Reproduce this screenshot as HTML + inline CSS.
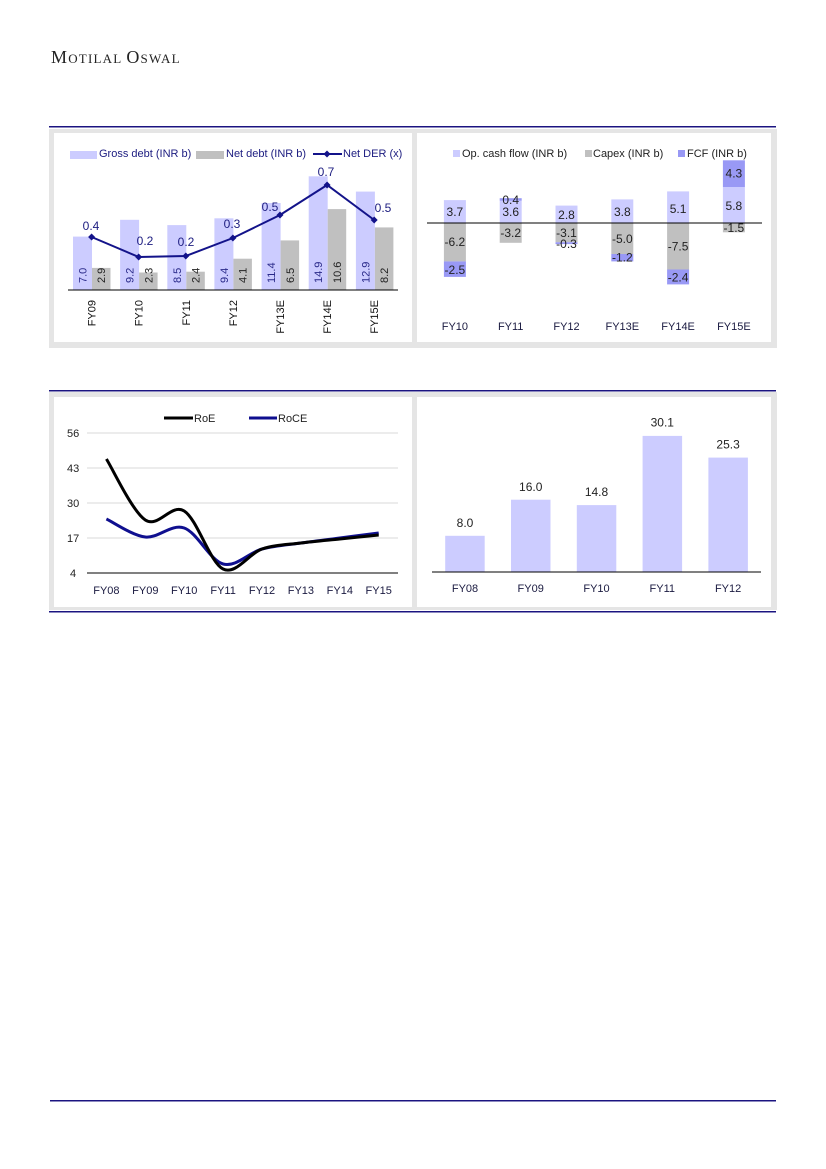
<!DOCTYPE html>
<html><head><meta charset="utf-8"><style>
html,body{margin:0;padding:0;background:#fff;}
svg{display:block;}
text{font-family:"Liberation Sans",Arial,sans-serif;}
</style></head><body>
<svg width="826" height="1169" viewBox="0 0 826 1169" xmlns="http://www.w3.org/2000/svg">
<rect width="826" height="1169" fill="#fff"/>
<!-- header -->
<text x="51" y="63" style="font-family:'Liberation Serif','DejaVu Serif',serif" fill="#222" letter-spacing="1.2"><tspan font-size="18">M</tspan><tspan font-size="13">OTILAL</tspan><tspan font-size="13"> </tspan><tspan font-size="18">O</tspan><tspan font-size="13">SWAL</tspan></text>

<!-- top section -->
<rect x="49" y="126" width="727" height="1.5" fill="#1b1480"/>
<rect x="49" y="129" width="728" height="219" fill="#e5e5e5"/>
<rect x="54" y="133" width="358" height="209" fill="#fff"/>
<rect x="417" y="133" width="354" height="209" fill="#fff"/>

<!-- chart 1 legend -->
<rect x="70" y="151" width="27" height="8" fill="#ccccff"/>
<text x="99" y="157" font-size="11" fill="#1c1c80">Gross debt (INR b)</text>
<rect x="196" y="151" width="28" height="8" fill="#c0c0c0"/>
<text x="226" y="157" font-size="11" fill="#1c1c80">Net debt (INR b)</text>
<line x1="313" y1="154" x2="342" y2="154" stroke="#13138a" stroke-width="2"/>
<path d="M327 150.5 L330.5 154 L327 157.5 L323.5 154 Z" fill="#13138a"/>
<text x="343" y="157" font-size="11" fill="#1c1c80">Net DER (x)</text>

<!-- chart 1 bars -->
<g fill="#ccccff">
<rect x="73" y="236.6" width="19" height="53.4"/>
<rect x="120.1" y="219.8" width="19" height="70.2"/>
<rect x="167.3" y="225.1" width="19" height="64.9"/>
<rect x="214.4" y="218.3" width="19" height="71.7"/>
<rect x="261.6" y="203" width="19" height="87"/>
<rect x="308.7" y="176.3" width="19" height="113.7"/>
<rect x="355.9" y="191.6" width="19" height="98.4"/>
</g>
<g fill="#c0c0c0">
<rect x="92" y="267.9" width="18.5" height="22.1"/>
<rect x="139.1" y="272.5" width="18.5" height="17.5"/>
<rect x="186.3" y="271.7" width="18.5" height="18.3"/>
<rect x="233.4" y="258.7" width="18.5" height="31.3"/>
<rect x="280.6" y="240.4" width="18.5" height="49.6"/>
<rect x="327.7" y="209.1" width="18.5" height="80.9"/>
<rect x="374.9" y="227.4" width="18.5" height="62.6"/>
</g>
<g font-size="11" fill="#2a2a8a">
<text transform="translate(86.5,283) rotate(-90)">7.0</text>
<text transform="translate(133.6,283) rotate(-90)">9.2</text>
<text transform="translate(180.8,283) rotate(-90)">8.5</text>
<text transform="translate(227.9,283) rotate(-90)">9.4</text>
<text transform="translate(275.1,283) rotate(-90)">11.4</text>
<text transform="translate(322.2,283) rotate(-90)">14.9</text>
<text transform="translate(369.4,283) rotate(-90)">12.9</text>
</g>
<g font-size="11" fill="#222">
<text transform="translate(105.2,283) rotate(-90)">2.9</text>
<text transform="translate(152.3,283) rotate(-90)">2.3</text>
<text transform="translate(199.5,283) rotate(-90)">2.4</text>
<text transform="translate(246.6,283) rotate(-90)">4.1</text>
<text transform="translate(293.8,283) rotate(-90)">6.5</text>
<text transform="translate(340.9,283) rotate(-90)">10.6</text>
<text transform="translate(388.1,283) rotate(-90)">8.2</text>
</g>
<line x1="68" y1="290" x2="398" y2="290" stroke="#000" stroke-width="1"/>
<!-- DER line -->
<polyline points="91.6,237 138.7,257 185.8,256 232.9,238 280,215 327.1,185 374.2,220" fill="none" stroke="#13138a" stroke-width="2"/>
<g fill="#13138a">
<path d="M91.6 233.5 L95.1 237 L91.6 240.5 L88.1 237 Z"/>
<path d="M138.7 253.5 L142.2 257 L138.7 260.5 L135.2 257 Z"/>
<path d="M185.8 252.5 L189.3 256 L185.8 259.5 L182.3 256 Z"/>
<path d="M232.9 234.5 L236.4 238 L232.9 241.5 L229.4 238 Z"/>
<path d="M280 211.5 L283.5 215 L280 218.5 L276.5 215 Z"/>
<path d="M327.1 181.5 L330.6 185 L327.1 188.5 L323.6 185 Z"/>
<path d="M374.2 216.5 L377.7 220 L374.2 223.5 L370.7 220 Z"/>
</g>
<g font-size="12" fill="#1c1c80" text-anchor="middle">
<text x="91" y="230">0.4</text>
<text x="145" y="245">0.2</text>
<text x="186" y="246">0.2</text>
<text x="232" y="228">0.3</text>
<text x="270" y="211">0.5</text>
<text x="326" y="176">0.7</text>
<text x="383" y="212">0.5</text>
</g>
<g font-size="11" fill="#111" text-anchor="end">
<text transform="translate(95.6,300) rotate(-90)">FY09</text>
<text transform="translate(142.7,300) rotate(-90)">FY10</text>
<text transform="translate(189.8,300) rotate(-90)">FY11</text>
<text transform="translate(236.9,300) rotate(-90)">FY12</text>
<text transform="translate(284,300) rotate(-90)">FY13E</text>
<text transform="translate(331.1,300) rotate(-90)">FY14E</text>
<text transform="translate(378.2,300) rotate(-90)">FY15E</text>
</g>

<!-- chart 2 -->
<rect x="453" y="150" width="7" height="7" fill="#ccccff"/>
<text x="462" y="157" font-size="11" fill="#222">Op. cash flow (INR b)</text>
<rect x="585" y="150" width="7" height="7" fill="#c0c0c0"/>
<text x="593" y="157" font-size="11" fill="#222">Capex (INR b)</text>
<rect x="678" y="150" width="7" height="7" fill="#9999f5"/>
<text x="687" y="157" font-size="11" fill="#222">FCF (INR b)</text>

<g fill="#ccccff">
<rect x="443.9" y="200.1" width="22" height="22.9"/>
<rect x="499.7" y="200.7" width="22" height="22.3"/>
<rect x="555.5" y="205.6" width="22" height="17.4"/>
<rect x="611.3" y="199.4" width="22" height="23.6"/>
<rect x="667.1" y="191.4" width="22" height="31.6"/>
<rect x="722.9" y="187" width="22" height="36"/>
</g>
<g fill="#c0c0c0">
<rect x="443.9" y="223" width="22" height="38.4"/>
<rect x="499.7" y="223" width="22" height="19.8"/>
<rect x="555.5" y="223" width="22" height="19.2"/>
<rect x="611.3" y="223" width="22" height="31"/>
<rect x="667.1" y="223" width="22" height="46.5"/>
<rect x="722.9" y="223" width="22" height="9.3"/>
</g>
<g fill="#9999f5">
<rect x="443.9" y="261.4" width="22" height="15.5"/>
<rect x="499.7" y="198.2" width="22" height="2.5"/>
<rect x="555.5" y="242.2" width="22" height="1.9"/>
<rect x="611.3" y="254" width="22" height="7.4"/>
<rect x="667.1" y="269.5" width="22" height="14.9"/>
<rect x="722.9" y="160.3" width="22" height="26.7"/>
</g>
<line x1="427" y1="223" x2="762" y2="223" stroke="#000" stroke-width="1"/>
<g font-size="12" fill="#222" text-anchor="middle">
<text x="454.9" y="216">3.7</text>
<text x="454.9" y="246">-6.2</text>
<text x="454.9" y="274">-2.5</text>
<text x="510.7" y="204">0.4</text>
<text x="510.7" y="216">3.6</text>
<text x="510.7" y="237">-3.2</text>
<text x="566.5" y="219">2.8</text>
<text x="566.5" y="237">-3.1</text>
<text x="566.5" y="248">-0.3</text>
<text x="622.3" y="216">3.8</text>
<text x="622.3" y="243">-5.0</text>
<text x="622.3" y="261.5">-1.2</text>
<text x="678.1" y="213">5.1</text>
<text x="678.1" y="250.5">-7.5</text>
<text x="678.1" y="281.5">-2.4</text>
<text x="733.9" y="177.5">4.3</text>
<text x="733.9" y="210">5.8</text>
<text x="733.9" y="232">-1.5</text>
</g>
<g font-size="11" fill="#1a1a40" text-anchor="middle">
<text x="454.9" y="330">FY10</text>
<text x="510.7" y="330">FY11</text>
<text x="566.5" y="330">FY12</text>
<text x="622.3" y="330">FY13E</text>
<text x="678.1" y="330">FY14E</text>
<text x="733.9" y="330">FY15E</text>
</g>

<!-- bottom section -->
<rect x="49" y="390" width="727" height="1.5" fill="#1b1480"/>
<rect x="49" y="392" width="728" height="218" fill="#e5e5e5"/>
<rect x="54" y="397" width="358" height="210" fill="#fff"/>
<rect x="417" y="397" width="354" height="210" fill="#fff"/>
<rect x="49" y="611" width="727" height="1.5" fill="#1b1480"/>

<!-- chart 3 -->
<line x1="164" y1="418" x2="193" y2="418" stroke="#000" stroke-width="3"/>
<text x="194" y="422" font-size="11" fill="#222">RoE</text>
<line x1="249" y1="418" x2="277" y2="418" stroke="#0f0f8f" stroke-width="3"/>
<text x="278" y="422" font-size="11" fill="#222">RoCE</text>
<g stroke="#d9d9d9" stroke-width="1">
<line x1="87" y1="433" x2="398" y2="433"/>
<line x1="87" y1="468" x2="398" y2="468"/>
<line x1="87" y1="503" x2="398" y2="503"/>
<line x1="87" y1="538" x2="398" y2="538"/>
</g>
<line x1="87" y1="573" x2="398" y2="573" stroke="#000" stroke-width="1"/>
<g font-size="11" fill="#222">
<text x="67" y="437">56</text>
<text x="67" y="472">43</text>
<text x="67" y="507">30</text>
<text x="67" y="542">17</text>
<text x="70" y="577">4</text>
</g>
<path d="M106.4 519 C112.9 522 132.3 535.5 145.3 537 C158.3 538.5 171.2 523.5 184.2 528 C197.2 532.5 210.1 560.5 223.1 564 C236.1 567.5 249 552.5 262 549 C275 545.5 287.9 544.8 300.9 543 C313.9 541.2 326.8 539.7 339.8 538 C352.8 536.3 372.2 533.8 378.7 533" fill="none" stroke="#0f0f8f" stroke-width="3"/>
<path d="M106.4 459 C112.9 469.2 132.3 511.3 145.3 520 C158.3 528.7 171.2 502.8 184.2 511 C197.2 519.2 210.1 562.7 223.1 569 C236.1 575.3 249 553.3 262 549 C275 544.7 287.9 544.7 300.9 543 C313.9 541.3 326.8 540.3 339.8 539 C352.8 537.7 372.2 535.7 378.7 535" fill="none" stroke="#000" stroke-width="3"/>
<g font-size="11" fill="#1a1a40" text-anchor="middle">
<text x="106.4" y="594">FY08</text>
<text x="145.3" y="594">FY09</text>
<text x="184.2" y="594">FY10</text>
<text x="223.1" y="594">FY11</text>
<text x="262" y="594">FY12</text>
<text x="300.9" y="594">FY13</text>
<text x="339.8" y="594">FY14</text>
<text x="378.7" y="594">FY15</text>
</g>

<!-- chart 4 -->
<g fill="#ccccff">
<rect x="445.2" y="535.8" width="39.5" height="36.2"/>
<rect x="511" y="499.7" width="39.5" height="72.3"/>
<rect x="576.8" y="505.1" width="39.5" height="66.9"/>
<rect x="642.6" y="435.9" width="39.5" height="136.1"/>
<rect x="708.4" y="457.6" width="39.5" height="114.4"/>
</g>
<line x1="432" y1="572" x2="761" y2="572" stroke="#000" stroke-width="1"/>
<g font-size="12" fill="#222" text-anchor="middle">
<text x="465" y="527">8.0</text>
<text x="530.7" y="491">16.0</text>
<text x="596.5" y="496">14.8</text>
<text x="662.3" y="426.5">30.1</text>
<text x="728.1" y="448.5">25.3</text>
</g>
<g font-size="11" fill="#1a1a40" text-anchor="middle">
<text x="465" y="592">FY08</text>
<text x="530.7" y="592">FY09</text>
<text x="596.5" y="592">FY10</text>
<text x="662.3" y="592">FY11</text>
<text x="728.1" y="592">FY12</text>
</g>

<!-- footer rule -->
<rect x="50" y="1100" width="726" height="1.5" fill="#1b1480"/>
</svg>
</body></html>
